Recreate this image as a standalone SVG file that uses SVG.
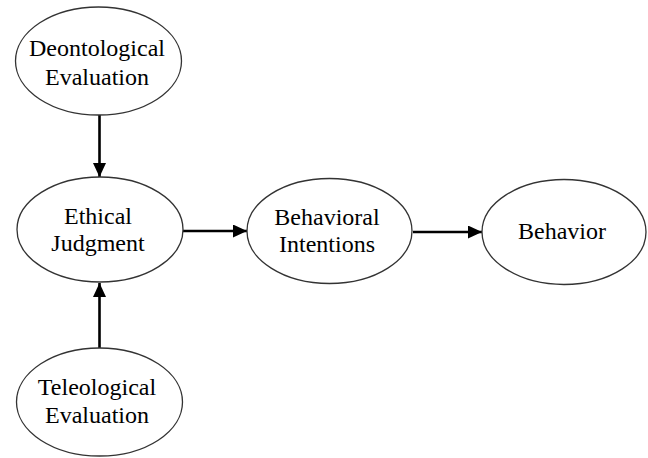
<svg xmlns="http://www.w3.org/2000/svg" width="648" height="458" viewBox="0 0 648 458">
<defs>
<style>
.node ellipse{fill:#fff;stroke:#333;stroke-width:1.3}
.node text{font-family:"Liberation Serif","Times New Roman",serif;font-size:24px;fill:#000;text-anchor:middle}
.conn line{stroke:#000;stroke-width:2.6}
</style>
<marker id="ah" viewBox="0 0 14 13" refX="14" refY="6.5" markerWidth="14" markerHeight="13" markerUnits="userSpaceOnUse" orient="auto">
<path d="M0,0 L14,6.5 L0,13 Z" fill="#000"/>
</marker>
</defs>
<rect width="648" height="458" fill="#fff"/>
<g id="connectors" class="conn">
<line x1="99.5" y1="115" x2="99.5" y2="177" marker-end="url(#ah)"/>
<line x1="99.5" y1="348" x2="99.5" y2="283" marker-end="url(#ah)"/>
<line x1="183" y1="231" x2="247" y2="231" marker-end="url(#ah)"/>
<line x1="413" y1="232" x2="482" y2="232" marker-end="url(#ah)"/>
</g>
<g id="deontological" class="node">
<ellipse cx="98.5" cy="61" rx="83" ry="54"/>
<text x="97" y="56">Deontological</text>
<text x="97" y="85">Evaluation</text>
</g>
<g id="ethical" class="node">
<ellipse cx="100" cy="229.5" rx="83" ry="52.5"/>
<text x="98" y="224">Ethical</text>
<text x="98" y="251">Judgment</text>
</g>
<g id="intentions" class="node">
<ellipse cx="329.5" cy="231" rx="82.5" ry="52.5"/>
<text x="327" y="225">Behavioral</text>
<text x="327" y="252">Intentions</text>
</g>
<g id="behavior" class="node">
<ellipse cx="564" cy="232" rx="82" ry="52.5"/>
<text x="562" y="239">Behavior</text>
</g>
<g id="teleological" class="node">
<ellipse cx="99.5" cy="402" rx="83" ry="54"/>
<text x="97" y="395">Teleological</text>
<text x="97" y="423">Evaluation</text>
</g>
</svg>
